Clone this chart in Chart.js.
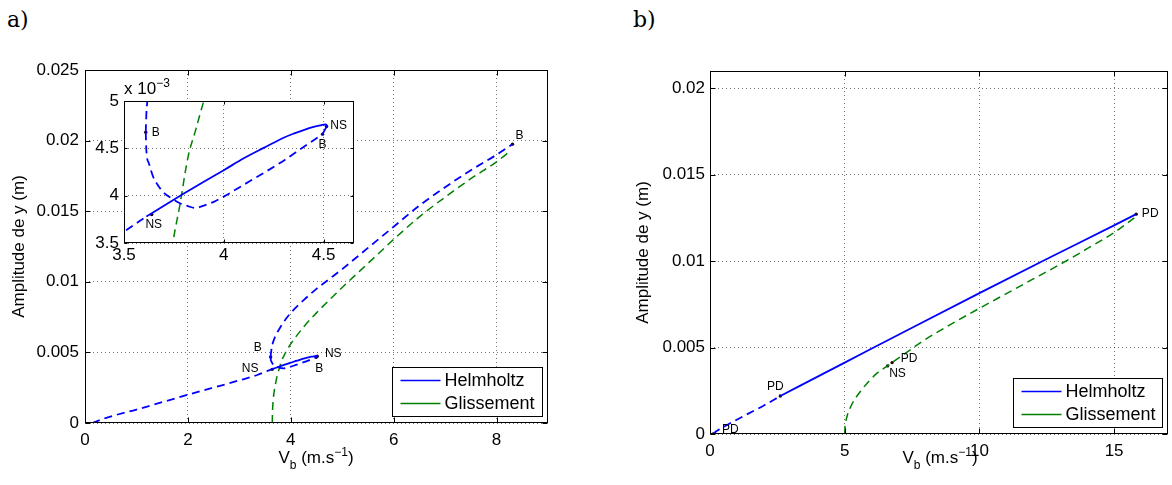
<!DOCTYPE html>
<html>
<head>
<meta charset="utf-8">
<script src="https://cdn.jsdelivr.net/npm/chart.js@4.4.0/dist/chart.umd.min.js"></script>
<style>
  body { margin: 0; background: #fff; width: 1172px; height: 485px; overflow: hidden; position: relative;
         font-family: "Liberation Sans", Arial, sans-serif; color: #000; }
  .box { position: absolute; }
  .panel { position: absolute; font-family: "DejaVu Serif", serif; font-size: 22px; line-height: 22px; }
  .xt { position: absolute; font-size: 17px; line-height: 17px; text-align: center; white-space: nowrap; }
  .sb { position: relative; top: 6px; font-size: 12px; }
  .sp { position: relative; top: -7px; font-size: 12px; }
</style>
</head>
<body>
<div class="panel" style="left:7px;top:9px">a)</div>
<div class="panel" style="left:633px;top:9px">b)</div>

<div class="box" style="left:0;top:0;width:560px;height:485px"><canvas id="chartA"></canvas></div>
<div class="box" style="left:80px;top:70px;width:290px;height:200px"><canvas id="chartInset"></canvas></div>
<div class="box" style="left:600px;top:0;width:572px;height:485px"><canvas id="chartB"></canvas></div>

<div class="xt" style="left:124px;top:80px;text-align:left">x 10<span class="sp">−3</span></div>
<div class="xt" style="left:216px;top:449px;width:200px">V<span class="sb">b</span> (m.s<span class="sp">−1</span>)</div>
<div class="xt" style="left:840px;top:449px;width:200px">V<span class="sb">b</span> (m.s<span class="sp">−1</span>)</div>

<script>
// ---------- data ----------

// legend
const seriesNames = ["Helmholtz", "Glissement"];
const seriesColors = ["#0000ff", "#008000"];

// panel a : ticks
const xTicksA = [0, 2, 4, 6, 8];
const xTickLabelsA = ["0", "2", "4", "6", "8"];
const yTicksA = [0, 0.005, 0.01, 0.015, 0.02, 0.025];
const yTickLabelsA = ["0", "0.005", "0.01", "0.015", "0.02", "0.025"];

// inset ticks (y shown x 10^-3)
const xTicksIn = [3.5, 4, 4.5];
const xTickLabelsIn = ["3.5", "4", "4.5"];
const yTicksIn = [0.0035, 0.004, 0.0045, 0.005];
const yTickLabelsIn = ["3.5", "4", "4.5", "5"];

// panel a : Helmholtz, lower unstable branch
const helmA_lowX = [0.14, 0.4, 1.0, 2.0, 3.0, 3.35, 3.5, 3.612];
const helmA_lowY = [0, 0.00035, 0.00095, 0.00200, 0.00302, 0.00340, 0.00362, 0.00378];
// Helmholtz, stable part (NS -> NS)
const helmA_stabX = [3.612, 3.70, 3.80, 3.90, 4.00, 4.10, 4.20, 4.30, 4.35, 4.40, 4.45, 4.49, 4.51, 4.518];
const helmA_stabY = [0.00378, 0.003894, 0.004022, 0.004147, 0.004269, 0.004395, 0.004505, 0.004612, 0.004655, 0.004693, 0.004726, 0.004746, 0.004752, 0.004744];
// small hook NS -> B
const helmA_hookX = [4.518, 4.515, 4.505, 4.495];
const helmA_hookY = [0.004744, 0.00473, 0.00469, 0.00465];
// Helmholtz, unstable branch between the fold (B) and B
const helmA_loopX = [3.609, 3.612, 3.625, 3.646, 3.67, 3.70, 3.74, 3.78, 3.82, 3.855, 3.90, 3.95, 4.00, 4.10, 4.20, 4.30, 4.40, 4.495];
const helmA_loopY = [0.00467, 0.00448, 0.00434, 0.00420, 0.00411, 0.00403, 0.00397, 0.00392, 0.00389, 0.00387, 0.003895, 0.003935, 0.00399, 0.004115, 0.00424, 0.00437, 0.004515, 0.00465];
// Helmholtz, upper unstable branch (fold -> B at the top)
const helmA_upX = [3.609, 3.612, 3.617, 3.63, 3.65, 3.70, 3.80, 3.90, 4.00, 4.25, 4.50, 4.75, 5.00, 5.50, 6.00, 6.50, 7.00, 7.50, 8.00, 8.31];
const helmA_upY = [0.00467, 0.00486, 0.00500, 0.00535, 0.00565, 0.00615, 0.00680, 0.00735, 0.00780, 0.00870, 0.00950, 0.01020, 0.01090, 0.01240, 0.01390, 0.01540, 0.01670, 0.01790, 0.01900, 0.01975];
// panel a : Glissement
const glisA_X = [3.640, 3.643, 3.650, 3.660, 3.680, 3.710, 3.745, 3.780, 3.820, 3.860, 3.900, 4.000, 4.250, 4.500, 5.000, 5.500, 6.000, 6.500, 7.000, 7.500, 8.000, 8.280];
const glisA_Y = [0, 0.0006, 0.0012, 0.0017, 0.0023, 0.0029, 0.0035, 0.0039, 0.0044, 0.0047, 0.0050, 0.0056, 0.0068, 0.0078, 0.0096, 0.0113, 0.0130, 0.0146, 0.0160, 0.0173, 0.0185, 0.0193];
// panel a : bifurcation points
const bifA_X = [3.609, 3.639, 4.515, 4.495, 8.31];
const bifA_Y = [0.00467, 0.00380, 0.00473, 0.00465, 0.01975];
const bifA_Names = ["B", "NS", "NS", "B", "B"];

// panel b : ticks
const xTicksB = [0, 5, 10, 15];
const xTickLabelsB = ["0", "5", "10", "15"];
const yTicksB = [0, 0.005, 0.01, 0.015, 0.02];
const yTickLabelsB = ["0", "0.005", "0.01", "0.015", "0.02"];

// panel b : Helmholtz
const helmB_dashX = [0.12, 0.20, 0.35, 0.70, 1.30, 2.00, 2.61];
const helmB_dashY = [0, 0.00012, 0.00027, 0.00058, 0.00108, 0.00165, 0.00220];
const helmB_solX = [2.61, 5.0, 7.5, 10.0, 12.5, 15.0, 15.82];
const helmB_solY = [0.00220, 0.00413, 0.00615, 0.00815, 0.01012, 0.01207, 0.01272];
// panel b : Glissement
const glisB_X = [5.00, 5.01, 5.04, 5.10, 5.20, 5.35, 5.60, 5.90, 6.20, 6.59, 6.76, 7.30, 8.00, 9.00, 10.0, 11.0, 12.0, 13.0, 14.0, 15.0, 15.75];
const glisB_Y = [0, 0.00035, 0.0007, 0.0011, 0.0015, 0.00195, 0.0025, 0.00305, 0.00352, 0.00394, 0.00413, 0.00472, 0.00548, 0.0064, 0.00727, 0.00812, 0.00897, 0.00982, 0.01072, 0.01165, 0.01250];
// panel b : bifurcation points
const bifB_X = [0.12, 2.61, 6.59, 6.76, 15.82];
const bifB_Y = [0, 0.0022, 0.00394, 0.00413, 0.01272];
const bifB_Names = ["PD", "PD", "NS", "PD", "PD"];

// label offsets in px (centre of text relative to the point)
const offA = [[-13, -9], [-22, -1], [16, -3], [3, 11], [7, -8]];
const offIn = [[10, 0], [2, 10], [12, -1], [0, 11], [0, 0]];
const offB = [[17, -4], [-5, -9], [10, 8], [17, -4], [14, 0]];

// ---------- helpers ----------
Chart.defaults.font.family = '"Liberation Sans", Arial, Helvetica, sans-serif';
Chart.defaults.font.size = 17;
Chart.defaults.color = "#000";

const pts = (xs, ys) => xs.map((x, i) => ({ x: x, y: ys[i] }));
const DASH = [8, 5];

function line(xs, ys, color, dashed, width) {
  return {
    data: pts(xs, ys), showLine: true, borderColor: color, borderWidth: width,
    borderDash: dashed ? DASH : [], pointRadius: 0, pointHoverRadius: 0,
    cubicInterpolationMode: "monotone", fill: false
  };
}
function markers(xs, ys, names, offs) {
  return {
    data: pts(xs, ys), showLine: false, pointRadius: 1.7, pointBackgroundColor: "#200",
    pointBorderWidth: 0, isMarker: true, names: names, offs: offs
  };
}

const framePlugin = {
  id: "frame",
  beforeDraw(chart) {
    const a = chart.chartArea, ctx = chart.ctx;
    ctx.save();
    ctx.fillStyle = "#fff";
    ctx.fillRect(a.left, a.top, a.right - a.left, a.bottom - a.top);
    ctx.restore();
  },
  afterDraw(chart, args, opts) {
    const a = chart.chartArea, ctx = chart.ctx;
    const L = Math.round(a.left) + 0.5, T = Math.round(a.top) + 0.5;
    const R = Math.round(a.right) - 0.5, B = Math.round(a.bottom) - 0.5;
    const xs = chart.scales.x, ys = chart.scales.y, t = opts.tick;
    ctx.save();
    ctx.strokeStyle = "#000";
    ctx.lineWidth = 1;
    ctx.beginPath();
    xs.ticks.forEach(tk => {
      const p = Math.round(xs.getPixelForValue(tk.value)) + 0.5;
      ctx.moveTo(p, B); ctx.lineTo(p, B - t);
      ctx.moveTo(p, T); ctx.lineTo(p, T + t);
    });
    ys.ticks.forEach(tk => {
      const p = Math.round(ys.getPixelForValue(tk.value)) + 0.5;
      ctx.moveTo(L, p); ctx.lineTo(L + t, p);
      ctx.moveTo(R, p); ctx.lineTo(R - t, p);
    });
    ctx.stroke();
    ctx.strokeRect(L, T, R - L, B - T);

    // bifurcation labels
    ctx.fillStyle = "#000";
    ctx.font = '12px "Liberation Sans", Arial, sans-serif';
    ctx.textAlign = "center";
    ctx.textBaseline = "middle";
    chart.data.datasets.forEach(ds => {
      if (!ds.isMarker) return;
      ds.data.forEach((p, i) => {
        const px = xs.getPixelForValue(p.x), py = ys.getPixelForValue(p.y);
        if (px < a.left - 1 || px > a.right + 1 || py < a.top - 1 || py > a.bottom + 1) return;
        ctx.fillText(ds.names[i], px + ds.offs[i][0], py + ds.offs[i][1]);
      });
    });

    // legend box in the lower right corner
    if (opts.legend) {
      const lg = opts.legend;
      const bx = Math.round(a.right - lg.dx - lg.w) + 0.5, by = Math.round(a.bottom - lg.dy - lg.h) + 0.5;
      ctx.fillStyle = "#fff";
      ctx.fillRect(bx, by, lg.w, lg.h);
      ctx.strokeStyle = "#000";
      ctx.strokeRect(bx, by, lg.w, lg.h);
      ctx.font = '18px "Liberation Sans", Arial, sans-serif';
      ctx.textAlign = "left";
      seriesNames.forEach((name, i) => {
        const yy = by + 13 + i * 23;
        ctx.strokeStyle = seriesColors[i];
        ctx.lineWidth = 1.5;
        ctx.beginPath(); ctx.moveTo(bx + 8, yy); ctx.lineTo(bx + 48, yy); ctx.stroke();
        ctx.fillStyle = "#000";
        ctx.fillText(name, bx + 52, yy + 1);
      });
    }
    ctx.restore();
  }
};

function axis(min, max, ticks, labels, fitSize, horizontal, pad, title) {
  const s = {
    type: "linear", min: min, max: max,
    grid: { color: "rgba(0,0,0,0.55)", lineWidth: 1, drawTicks: false },
    border: { display: false, dash: [1, 3] },
    ticks: { padding: pad, autoSkip: false, maxRotation: 0, callback: (v, i) => labels[i] },
    afterBuildTicks: sc => { sc.ticks = ticks.map(v => ({ value: v })); },
    afterFit: sc => { if (horizontal) sc.height = fitSize; else sc.width = fitSize; }
  };
  if (title) s.title = title;
  return s;
}

function opts(xScale, yScale, padding, frame) {
  return {
    responsive: true, maintainAspectRatio: false, animation: false, devicePixelRatio: 1,
    layout: { padding: padding },
    plugins: { legend: { display: false }, tooltip: { enabled: false }, frame: frame },
    scales: { x: xScale, y: yScale }
  };
}

const yTitle = pad => ({ display: true, text: "Amplitude de y (m)", font: { size: 17 }, padding: { top: pad, bottom: 0 } });

// ---------- panel a ----------
function datasetsA() {
  return [
    line(helmA_lowX, helmA_lowY, seriesColors[0], true, 1.8),
    line(helmA_stabX, helmA_stabY, seriesColors[0], false, 1.8),
    line(helmA_hookX, helmA_hookY, seriesColors[0], false, 1.8),
    line(helmA_loopX, helmA_loopY, seriesColors[0], true, 1.8),
    line(helmA_upX, helmA_upY, seriesColors[0], true, 1.8),
    line(glisA_X, glisA_Y, seriesColors[1], true, 1.5),
    markers(bifA_X, bifA_Y, bifA_Names, offA)
  ];
}

new Chart(document.getElementById("chartA"), {
  type: "scatter",
  data: { datasets: datasetsA() },
  options: opts(
    axis(0, 9, xTicksA, xTickLabelsA, 62, true, 7),
    axis(0, 0.025, yTicksA, yTickLabelsA, 85, false, 6, yTitle(9)),
    { left: 0, top: 70, right: 12, bottom: 0 },
    { tick: 5, legend: { w: 150, h: 49, dx: 6, dy: 7 } }
  ),
  plugins: [framePlugin]
});

// inset (same data, zoomed)
const insetSets = datasetsA();
insetSets[insetSets.length - 1].offs = offIn;
new Chart(document.getElementById("chartInset"), {
  type: "scatter",
  data: { datasets: insetSets },
  options: opts(
    axis(3.5, 4.65, xTicksIn, xTickLabelsIn, 27, true, 2),
    axis(0.0035, 0.005, yTicksIn, yTickLabelsIn, 44, false, 5),
    { left: 0, top: 31, right: 16.5, bottom: 0 },
    { tick: 3 }
  ),
  plugins: [framePlugin]
});

// ---------- panel b ----------
new Chart(document.getElementById("chartB"), {
  type: "scatter",
  data: {
    datasets: [
      line(helmB_dashX, helmB_dashY, seriesColors[0], true, 1.8),
      line(helmB_solX, helmB_solY, seriesColors[0], false, 1.8),
      line(glisB_X, glisB_Y, seriesColors[1], true, 1.5),
      markers(bifB_X, bifB_Y, bifB_Names, offB)
    ]
  },
  options: opts(
    axis(0, 17, xTicksB, xTickLabelsB, 51, true, 7),
    axis(0, 0.021, yTicksB, yTickLabelsB, 110, false, 5, yTitle(33)),
    { left: 0, top: 71, right: 1, bottom: 0 },
    { tick: 5, legend: { w: 149, h: 49, dx: 6, dy: 7 } }
  ),
  plugins: [framePlugin]
});
</script>
</body>
</html>
